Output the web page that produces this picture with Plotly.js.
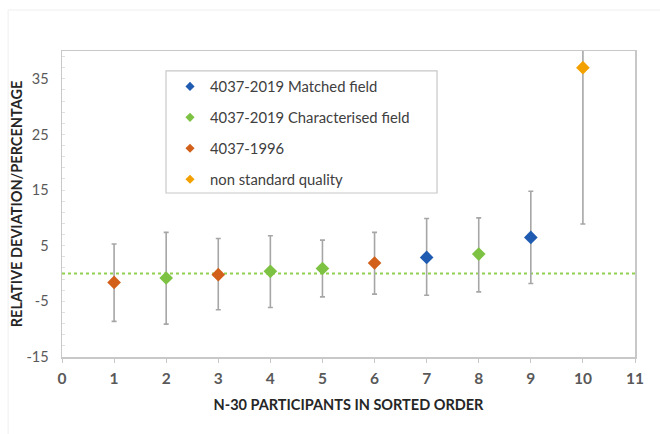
<!DOCTYPE html>
<html>
<head>
<meta charset="utf-8">
<script src="https://cdn.plot.ly/plotly-3.0.1.min.js"></script>
<style>html,body{margin:0;padding:0;background:#fff;}#chart{width:660px;height:434px;}</style>
</head>
<body>
<div id="chart"></div>
<script>
// ---- data ----
const participants = [1, 2, 3, 4, 5, 6, 7, 8, 9, 10];
const deviation    = [-1.6, -0.8, -0.2, 0.4, 0.9, 1.9, 2.9, 3.5, 6.5, 37];
const upperBound   = [5.3, 7.4, 6.3, 6.8, 6.0, 7.4, 9.9, 10.0, 14.8, 65];
const lowerBound   = [-8.6, -9.1, -6.5, -6.1, -4.2, -3.7, -3.9, -3.3, -1.8, 8.9];
const category     = ['1996', 'char', '1996', 'char', 'char', '1996', 'match', 'char', 'match', 'nonstd'];
const seriesKeys   = ['match', 'char', '1996', 'nonstd'];
const seriesNames  = ['4037-2019 Matched field', '4037-2019 Characterised field', '4037-1996', 'non standard quality'];
const seriesColors = ['#1F5BB0', '#7DC242', '#D2601A', '#F2A100'];
const referenceValue = 0;
const xTicks = [0, 1, 2, 3, 4, 5, 6, 7, 8, 9, 10, 11];
const yTickVals = [-15, -5, 5, 15, 25, 35];
const yTickText = ['-15', '-5', '5', '15', '25', '35'];

const FONT = 'Lato, "Open Sans", sans-serif';
const traces = [];
seriesKeys.forEach((key, s) => {
  const idx = participants.map((p, i) => i).filter(i => category[i] === key);
  traces.push({
    type: 'scatter', mode: 'markers', showlegend: false,
    x: idx.map(i => participants[i]),
    y: idx.map(i => deviation[i]),
    marker: {symbol: 'diamond', size: 10.5, color: seriesColors[s]},
    error_y: {
      type: 'data', symmetric: false,
      array: idx.map(i => upperBound[i] - deviation[i]),
      arrayminus: idx.map(i => deviation[i] - lowerBound[i]),
      color: '#A6A6A6', thickness: 1.6, width: 2.5
    },
    hoverinfo: 'x+y'
  });
});
// legend entries (smaller symbols, as in the reference)
seriesKeys.forEach((key, s) => {
  traces.push({
    type: 'scatter', mode: 'markers', name: seriesNames[s],
    x: [null], y: [null], legendgroup: key,
    marker: {symbol: 'diamond', size: 7, color: seriesColors[s]}
  });
});

const layout = {
  width: 660, height: 434,
  margin: {l: 62, r: 25, t: 51, b: 77},
  paper_bgcolor: '#fff', plot_bgcolor: '#fff',
  font: {family: FONT, color: '#595959'},
  showlegend: true,
  legend: {
    x: 0.1885, y: 0.937, xanchor: 'left', yanchor: 'top',
    borderwidth: 0, bgcolor: 'rgba(255,255,255,0)',
    font: {family: FONT, size: 14.8, color: '#404040'},
    traceorder: 'grouped', tracegroupgap: 8.7
  },
  xaxis: {
    range: [0, 11], tickmode: 'array', tickvals: xTicks,
    ticks: 'outside', ticklen: 4, tickcolor: '#C8C8C8',
    ticklabelstandoff: 3,
    showline: true, mirror: true, linecolor: '#C8C8C8', linewidth: 1.5,
    showgrid: false, zeroline: false,
    tickfont: {family: FONT, size: 15.5, color: '#595959', weight: 'bold'},
    title: {text: 'N-30 PARTICIPANTS IN SORTED ORDER', standoff: 14,
            font: {family: FONT, size: 14.5, color: '#262626', weight: 'bold'}}
  },
  yaxis: {
    range: [-15, 40], tickmode: 'array', tickvals: yTickVals, ticktext: yTickText,
    ticks: 'inside', ticklen: 3, tickcolor: '#E0E0E0',
    minor: {tick0: -15, dtick: 2, ticks: 'inside', ticklen: 3, tickcolor: '#E0E0E0'},
    ticklabelstandoff: 9,
    showline: true, mirror: true, linecolor: '#C8C8C8', linewidth: 1.5,
    showgrid: false, zeroline: false,
    tickfont: {family: FONT, size: 14.5, color: '#595959'},
    title: {text: 'RELATIVE DEVIATION/PERCENTAGE', standoff: 0,
            font: {family: FONT, size: 14.5, color: '#262626', weight: 'bold'}}
  },
  shapes: [
    {type: 'line', xref: 'x', yref: 'y', x0: 0, x1: 11, y0: referenceValue, y1: referenceValue,
     line: {color: '#92D050', width: 2, dash: 'dot'}, layer: 'below'},
    {type: 'rect', xref: 'paper', yref: 'paper', x0: 0.1815, x1: 0.6545, y0: 0.536, y1: 0.935,
     line: {color: '#C8C8C8', width: 1.2}, fillcolor: '#fff', layer: 'above'},
    {type: 'rect', xref: 'paper', yref: 'paper', x0: -0.094, x1: 1.1, y0: -0.3, y1: 1.134,
     line: {color: '#EFEFEF', width: 1}, fillcolor: 'rgba(0,0,0,0)', layer: 'below'}
  ]
};

Plotly.newPlot('chart', traces, layout, {displayModeBar: false, staticPlot: true});
</script>
</body>
</html>
